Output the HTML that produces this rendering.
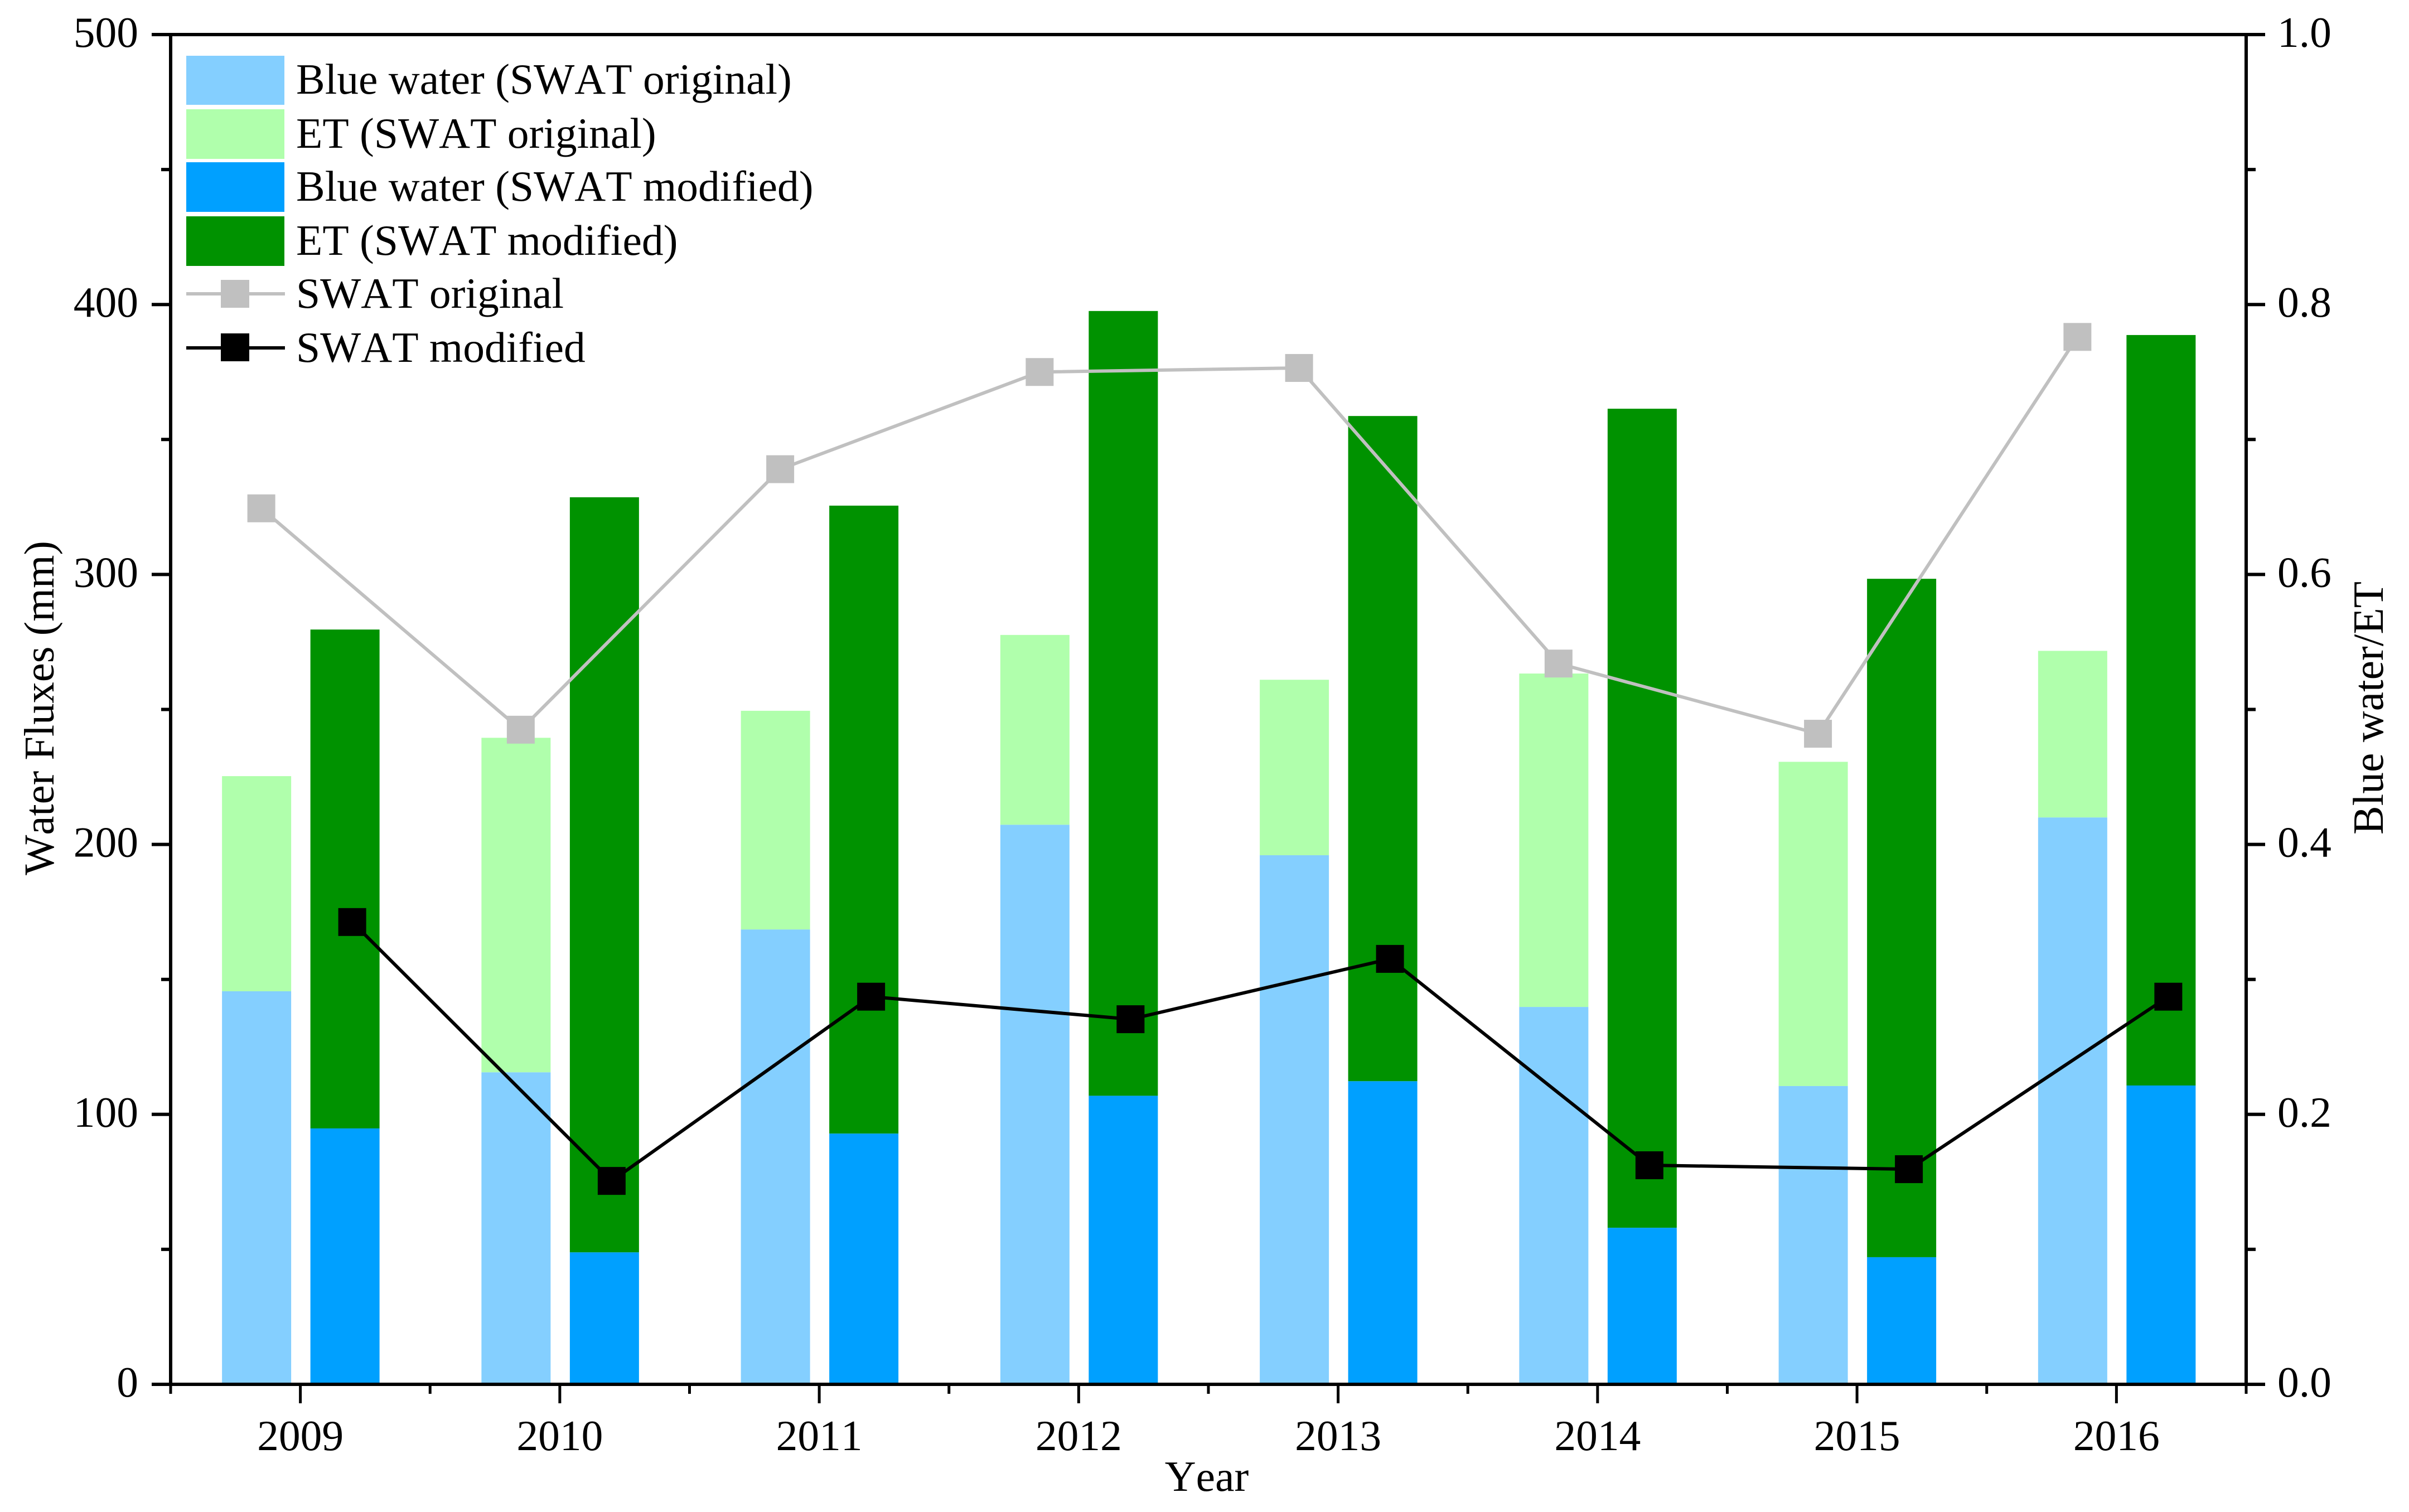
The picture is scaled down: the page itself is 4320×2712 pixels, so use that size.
<!DOCTYPE html>
<html lang="en">
<head>
<meta charset="utf-8">
<title>Water fluxes chart</title>
<style>
html,body{margin:0;padding:0;background:#fff;width:4320px;height:2712px;overflow:hidden}
svg{display:block}
text{font-family:"Liberation Serif","Times New Roman",serif;font-size:77.5px;fill:#000;font-kerning:none}
</style>
</head>
<body>
<svg id="chart" xmlns="http://www.w3.org/2000/svg" width="4320" height="2712" viewBox="0 0 4320 2712">
  <rect x="0" y="0" width="4320" height="2712" fill="#fff"/>
  <g id="bars"></g>
  <g id="lines"></g>
  <g id="axes"></g>
  <text x="2164" y="2674" text-anchor="middle">Year</text>
  <text transform="translate(96 1270) rotate(-90)" text-anchor="middle" style="font-size:76.6px">Water Fluxes (mm)</text>
  <text transform="translate(4273 1270) rotate(-90)" text-anchor="middle">Blue water/ET</text>
  <g>
    <rect x="334" y="100" width="176" height="88" fill="#84CFFF"/>
    <text x="531" y="168">Blue water (SWAT original)</text>
    <rect x="334" y="196" width="176" height="89" fill="#B0FFAC"/>
    <text x="531" y="265">ET (SWAT original)</text>
    <rect x="334" y="291" width="176" height="89" fill="#00A0FF"/>
    <text x="531" y="360">Blue water (SWAT modified)</text>
    <rect x="334" y="388" width="176" height="89" fill="#009200"/>
    <text x="531" y="457">ET (SWAT modified)</text>
    <line x1="334" y1="527" x2="511" y2="527" stroke="#C0C0C0" stroke-width="6"/>
    <rect x="396" y="502" width="51" height="50" fill="#C0C0C0"/>
    <text x="531" y="552">SWAT original</text>
    <line x1="334" y1="624" x2="511" y2="624" stroke="#000" stroke-width="6"/>
    <rect x="396" y="598" width="51" height="50" fill="#000"/>
    <text x="531" y="649">SWAT modified</text>
  </g>
</svg>
<script>
const years = [2009, 2010, 2011, 2012, 2013, 2014, 2015, 2016];
const blueOriginal = [145.6, 115.6, 168.5, 207.3, 196, 139.8, 110.5, 210];
const etOriginal = [79.7, 123.9, 81, 70.3, 65, 123.5, 120.1, 61.7];
const blueModified = [94.8, 48.9, 92.9, 106.9, 112.3, 58, 47.1, 110.7];
const etModified = [184.8, 279.7, 232.6, 290.7, 246.4, 303.4, 251.3, 278];
const ratioOriginal = [0.649, 0.485, 0.678, 0.75, 0.753, 0.534, 0.482, 0.776];
const ratioModified = [0.3425, 0.1507, 0.2872, 0.2705, 0.3152, 0.1623, 0.1594, 0.2872];
const leftTicks = [0, 100, 200, 300, 400, 500];
const rightTicks = ['0.0', '0.2', '0.4', '0.6', '0.8', '1.0'];

const NS = 'http://www.w3.org/2000/svg';
const plot = {left: 306, right: 4028, top: 62, bottom: 2483};
function xPos(i) { return plot.left + (i + 0.5) * (plot.right - plot.left) / years.length; }
function yLeft(v) { return plot.bottom - v / 500 * (plot.bottom - plot.top); }
function yRight(v) { return plot.bottom - v * (plot.bottom - plot.top); }
function make(tag, parent, attrs) {
  const el = document.createElementNS(NS, tag);
  for (const k in attrs) el.setAttribute(k, attrs[k]);
  parent.appendChild(el);
  return el;
}

const barsG = document.getElementById('bars');
const linesG = document.getElementById('lines');
const axesG = document.getElementById('axes');

function stack(base, top, off, w, baseColor, topColor, baseName, topName) {
  base.forEach((v, i) => {
    const x = xPos(i) + off;
    const yb = yLeft(v);
    const yt = yLeft(v + top[i]);
    const b = make('rect', barsG, {x: x, y: yb, width: w, height: yLeft(0) - yb, fill: baseColor});
    
    
    const t = make('rect', barsG, {x: x, y: yt, width: w, height: yb - yt, fill: topColor});
    
    
  });
}
stack(blueOriginal, etOriginal, -140.5, 124, '#84CFFF', '#B0FFAC', 'bar-blue-original', 'bar-et-original');
stack(blueModified, etModified, 18, 124, '#00A0FF', '#009200', 'bar-blue-modified', 'bar-et-modified');

function series(values, off, color, name) {
  const pts = values.map((v, i) => (xPos(i) + off) + ',' + yRight(v)).join(' ');
  const line = make('polyline', linesG, {points: pts, fill: 'none', stroke: color, 'stroke-width': 6});
  
  
  values.forEach((v, i) => {
    const m = make('rect', linesG, {x: xPos(i) + off - 25, y: yRight(v) - 25, width: 50, height: 50, fill: color});
    
    
  });
}
series(ratioOriginal, -70, '#C0C0C0', 'swat-original');
series(ratioModified, 93, '#000000', 'swat-modified');

function seg(x1, y1, x2, y2, w, name) {
  const l = make('line', axesG, {x1: x1, y1: y1, x2: x2, y2: y2, stroke: '#000', 'stroke-width': w});
  
  
}
seg(plot.left, plot.top, plot.left, plot.bottom, 6, 'y-axis-left');
seg(plot.right, plot.top, plot.right, plot.bottom, 6, 'y-axis-right');
seg(plot.left - 34, plot.top, plot.right + 34, plot.top, 6, 'x-axis-top');
seg(plot.left - 34, plot.bottom, plot.right + 34, plot.bottom, 6, 'x-axis-bottom');

leftTicks.forEach((v, i) => {
  const y = yLeft(v);
  seg(plot.left - 34, y, plot.left, y, 6, 'y-tick-left-' + v);
  const t = make('text', axesG, {x: 248, y: y + 22, 'text-anchor': 'end'});
  t.textContent = v;
  
  
  if (i < leftTicks.length - 1) {
    const ym = yLeft(v + 50);
    seg(plot.left - 17, ym, plot.left, ym, 6, 'y-minor-tick-left-' + (v + 50));
  }
});
rightTicks.forEach((s, i) => {
  const v = parseFloat(s);
  const y = yRight(v);
  seg(plot.right, y, plot.right + 34, y, 6, 'y-tick-right-' + s);
  const t = make('text', axesG, {x: 4084, y: y + 22});
  t.textContent = s;
  
  
  if (i < rightTicks.length - 1) {
    const ym = yRight(v + 0.1);
    seg(plot.right, ym, plot.right + 17, ym, 6, 'y-minor-tick-right-' + i);
  }
});
years.forEach((yr, i) => {
  const x = xPos(i);
  seg(x, plot.bottom, x, plot.bottom + 34, 5, 'x-tick-' + yr);
  seg(x - (plot.right - plot.left) / years.length / 2, plot.bottom, x - (plot.right - plot.left) / years.length / 2, plot.bottom + 17, 5, 'x-minor-tick-' + i);
  const t = make('text', axesG, {x: x, y: 2601, 'text-anchor': 'middle'});
  t.textContent = yr;
  
  
});
seg(plot.right, plot.bottom, plot.right, plot.bottom + 17, 5, 'x-minor-tick-end');
</script>
</body>
</html>
